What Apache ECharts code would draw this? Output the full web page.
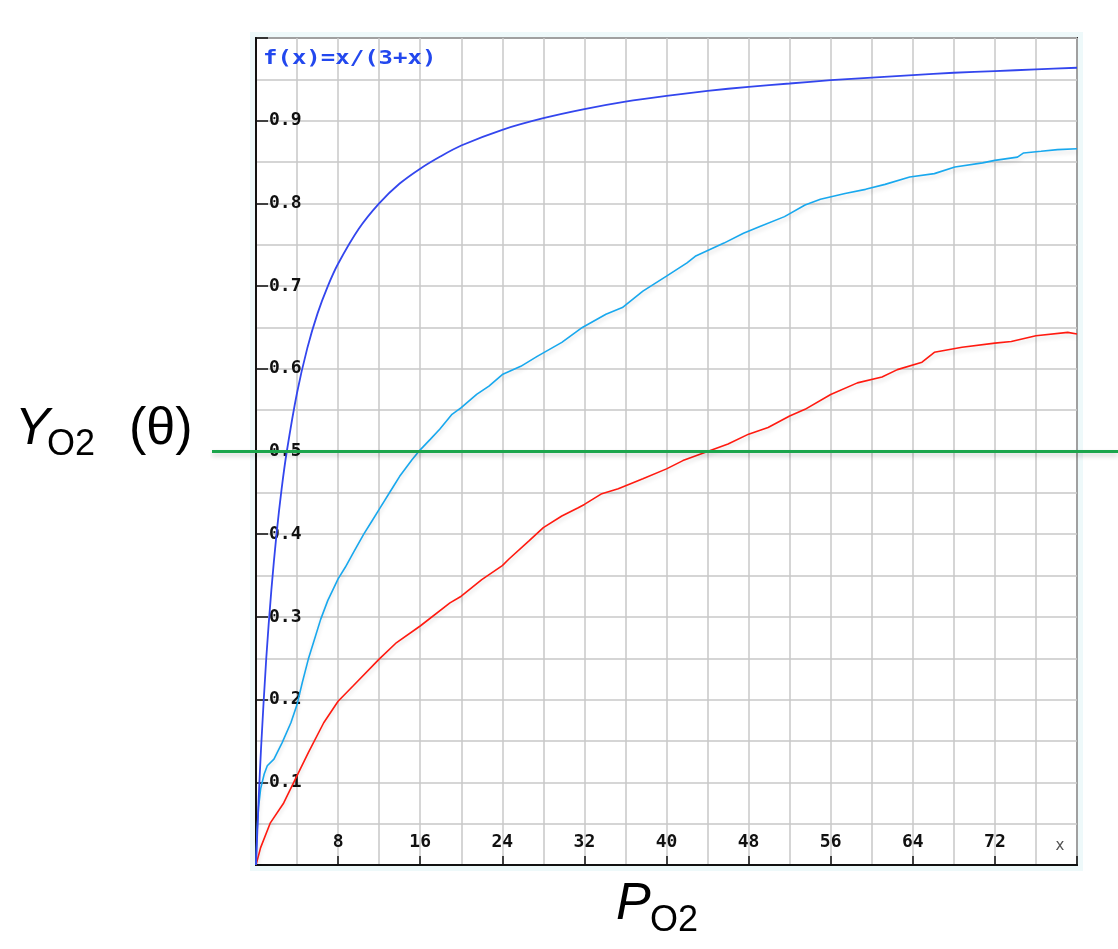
<!DOCTYPE html>
<html lang="en">
<head>
    <meta charset="UTF-8">
    <title>Y O2 vs P O2</title>
    <script type="text/javascript" src="https://cdn.jsdelivr.net/npm/echarts@6/dist/echarts.min.js"></script>
    <style>
        html, body { margin: 0; padding: 0; background: #fff; }
    </style>
</head>
<body>
<div id="container" style="width:1118px;height:949px"></div>
<script>
    // curve readings [P, Y]
    var curveBlue = [[0, 0], [0.25, 0.077], [0.5, 0.143], [1, 0.25], [1.5, 0.333], [2, 0.4], [2.5, 0.455],
        [3, 0.5], [4, 0.571], [5, 0.625], [6, 0.667], [7, 0.7], [8, 0.727], [10, 0.769], [12, 0.8],
        [14, 0.824], [16, 0.842], [18, 0.857], [20, 0.87], [24, 0.889], [28, 0.903], [32, 0.914],
        [36, 0.923], [40, 0.93], [44, 0.936], [48, 0.941], [52, 0.945], [56, 0.949], [60, 0.952],
        [64, 0.955], [68, 0.958], [72, 0.96], [76, 0.962], [80, 0.964]];

    var curveCyan = [[0, 0], [0.1, 0.04], [0.25, 0.07], [0.45, 0.092], [0.8, 0.11], [1.1, 0.12], [1.75, 0.128],
        [2.55, 0.148], [3.4, 0.172], [4, 0.194], [4.5, 0.22], [5.1, 0.249], [5.7, 0.273], [6.3, 0.297],
        [7, 0.32], [8, 0.346], [8.7, 0.36], [9.5, 0.378], [10.5, 0.4], [11.3, 0.416], [12, 0.43],
        [13.4, 0.458], [14, 0.47], [14.6, 0.48], [15.2, 0.49], [16, 0.502], [17, 0.515], [17.9, 0.527],
        [19.1, 0.545], [20, 0.553], [21.5, 0.569], [22.7, 0.579], [24, 0.593], [25.8, 0.603], [27.4, 0.615],
        [29.8, 0.632], [31.8, 0.65], [34.1, 0.666], [35.7, 0.674], [37.7, 0.694], [40, 0.712], [42, 0.728],
        [42.8, 0.736], [45.6, 0.752], [47.5, 0.764], [49.1, 0.772], [51.5, 0.784], [53.5, 0.798], [55, 0.805],
        [57.4, 0.812], [59.4, 0.817], [61.3, 0.823], [63.7, 0.832], [66.1, 0.836], [68.1, 0.844], [70.8, 0.849],
        [72, 0.852], [74.2, 0.856], [74.8, 0.861], [76.5, 0.863], [78.1, 0.865], [80, 0.866]];

    var curveRed = [[0, 0], [0.45, 0.021], [1.4, 0.051], [2.7, 0.075], [4, 0.108], [5.1, 0.136], [6.6, 0.172],
        [8, 0.198], [9.5, 0.217], [12, 0.249], [13.7, 0.269], [16, 0.289], [18.9, 0.317], [20, 0.325],
        [22, 0.345], [24, 0.362], [24.65, 0.37], [26.6, 0.392], [28, 0.408], [29.8, 0.422], [31.4, 0.432],
        [32, 0.436], [33.7, 0.449], [35.3, 0.455], [37.7, 0.467], [40, 0.479], [41.6, 0.489], [44, 0.5],
        [46, 0.509], [48, 0.521], [49.9, 0.529], [52, 0.543], [53.5, 0.551], [56, 0.569], [58.6, 0.583],
        [61, 0.59], [62.5, 0.599], [64.9, 0.608], [66.1, 0.62], [68.8, 0.626], [72, 0.631], [73.6, 0.633],
        [76, 0.64], [79.1, 0.644], [80, 0.642]];

    var halfLevel = 0.5;
    var xMax = 80, xStep = 8;
    var yMax = 1, yStep = 0.1;

    var gridStyle = {color: '#c8c8c8', width: 1.5};
    var tickFont = {fontFamily: 'DejaVu Sans Mono', fontWeight: 'bold', fontSize: 18, color: '#111'};

    var dom = document.getElementById("container");
    var myChart = echarts.init(dom);
    var option = {
        animation: false,
        backgroundColor: '#fff',
        grid: [
            {left: 256, right: 41, top: 38, bottom: 84, show: true, backgroundColor: '#fff',
                borderColor: '#2a2a2a', borderWidth: 2},
            {left: 212, right: 0, top: 38, bottom: 84}
        ],
        xAxis: [{
            type: 'value', min: 0, max: xMax, interval: xStep,
            name: 'x', nameLocation: 'end', nameGap: -17,
            nameTextStyle: {color: '#555', fontSize: 15, fontFamily: 'DejaVu Sans', align: 'center',
                verticalAlign: 'bottom', padding: [0, 0, 11, 0]},
            axisLine: {lineStyle: {color: '#111', width: 2}},
            axisTick: {inside: true, length: 9, lineStyle: {color: '#111', width: 1.5}},
            axisLabel: Object.assign({inside: true, margin: 14, formatter: function (v) {
                    return (v === 0 || v === xMax) ? '' : String(v);
                }}, tickFont),
            splitLine: {lineStyle: gridStyle},
            minorTick: {show: false, splitNumber: 2},
            minorSplitLine: {show: true, lineStyle: gridStyle}
        }, {
            type: 'value', min: 0, max: 1, gridIndex: 1, show: false
        }],
        yAxis: [{
            type: 'value', min: 0, max: yMax, interval: yStep,
            axisLine: {lineStyle: {color: '#111', width: 2}},
            axisTick: {inside: true, length: 12, lineStyle: {color: '#111', width: 1.5}},
            axisLabel: Object.assign({inside: true, margin: 13, formatter: function (v) {
                    return (v === 0 || v === yMax) ? '' : v.toFixed(1);
                }}, tickFont),
            splitLine: {lineStyle: gridStyle},
            minorTick: {show: false, splitNumber: 2},
            minorSplitLine: {show: true, lineStyle: gridStyle}
        }, {
            type: 'value', min: 0, max: 1, gridIndex: 1, show: false
        }],
        graphic: [
            {type: 'rect', z: -1, shape: {x: 250, y: 32, width: 833, height: 839}, style: {fill: '#eef9fa'}},
            {type: 'text', x: 263, y: 59, scaleX: 1.2, z: 10,
                style: {text: 'f(x)=x/(3+x)', fill: '#2348ee', font: 'bold 20px "DejaVu Sans Mono"', verticalAlign: 'middle'}},
            {type: 'text', x: 15, y: 430,
                style: {text: 'Y', fill: '#000', font: 'italic 52px "Liberation Sans"', verticalAlign: 'middle'}},
            {type: 'text', x: 47, y: 445,
                style: {text: 'O2', fill: '#000', font: '36px "Liberation Sans"', verticalAlign: 'middle'}},
            {type: 'text', x: 129, y: 430,
                style: {text: '(θ)', fill: '#000', font: '52px "Liberation Sans"', verticalAlign: 'middle'}},
            {type: 'text', x: 616, y: 905,
                style: {text: 'P', fill: '#000', font: 'italic 52px "Liberation Sans"', verticalAlign: 'middle'}},
            {type: 'text', x: 650, y: 921,
                style: {text: 'O2', fill: '#000', font: '36px "Liberation Sans"', verticalAlign: 'middle'}}
        ],
        series: [{
            type: 'line', data: curveRed, symbol: 'none',
            lineStyle: {color: '#ff1a10', width: 1.6, shadowColor: 'rgba(0,0,0,0.15)', shadowBlur: 4, shadowOffsetY: 3}
        }, {
            type: 'line', data: curveCyan, symbol: 'none',
            lineStyle: {color: '#18a8ee', width: 1.6, shadowColor: 'rgba(0,0,0,0.15)', shadowBlur: 4, shadowOffsetY: 3}
        }, {
            type: 'line', data: curveBlue, symbol: 'none', smooth: 0.3,
            lineStyle: {color: '#3346ee', width: 1.8}
        }, {
            type: 'line', xAxisIndex: 1, yAxisIndex: 1, symbol: 'none', z: 5,
            data: [[0, halfLevel], [1, halfLevel]],
            lineStyle: {color: '#1ba54c', width: 3, shadowColor: 'rgba(0,0,0,0.2)', shadowBlur: 5, shadowOffsetY: 3}
        }]
    };
    myChart.setOption(option, true);
</script>
</body>
</html>
